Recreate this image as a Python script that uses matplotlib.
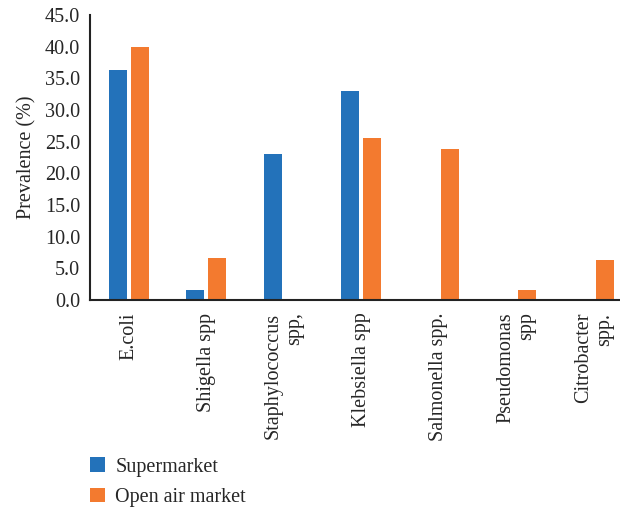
import matplotlib
matplotlib.use("Agg")
import matplotlib.pyplot as plt
import numpy as np
from matplotlib.patches import Patch

categories = ["E.coli", "Shigella spp", "Staphylococcus\nspp,", "Klebsiella spp",
              "Salmonella spp.", "Pseudomonas\nspp", "Citrobacter\nspp."]
supermarket = [36.3, 1.6, 23.1, 33.0, 0.0, 0.0, 0.0]
open_air = [40.0, 6.6, 0.0, 25.5, 23.9, 1.6, 6.3]
yticks = [0, 5, 10, 15, 20, 25, 30, 35, 40, 45]
series_names = ["Supermarket", "Open air market"]

blue = "#2372BA"
orange = "#F37A2F"
txt = "#262626"

plt.rcParams['font.family'] = ['Liberation Serif', 'DejaVu Serif']

fig = plt.figure(figsize=(6.2, 5.12), dpi=100)
W, H = 620, 512
ax = fig.add_axes([90 / W, 1 - 300 / H, (620 - 90) / W, (300 - 15) / H])

x = np.arange(len(categories))
bw = 0.23
off = 0.142
ax.bar(x - off, supermarket, width=bw, color=blue)
ax.bar(x + off, open_air, width=bw, color=orange)

fs = 14.5
ax.set_xlim(-0.5, -0.5 + 530 / 77.5)
ax.set_ylim(0, 45)
ax.set_yticks(yticks)
ax.set_yticklabels([f"{v:.1f}" for v in yticks], fontsize=fs)
ax.set_xticks(x)
ax.set_xticklabels(categories, rotation=90, fontsize=fs, va='top', ha='center',
                   multialignment='right', linespacing=1.15)
ax.tick_params(axis='both', length=0, colors=txt)
ax.tick_params(axis='x', pad=9)
ax.tick_params(axis='y', pad=7)
ax.set_ylabel("Prevalence (%)", fontsize=fs, color=txt, labelpad=6)

for s in ['top', 'right']:
    ax.spines[s].set_visible(False)
for s in ['left', 'bottom']:
    ax.spines[s].set_color('#222222')
    ax.spines[s].set_linewidth(1.5)

handles = [Patch(facecolor=blue, label=series_names[0]),
           Patch(facecolor=orange, label=series_names[1])]
fig.legend(handles=handles, loc='upper left', bbox_to_anchor=(72 / W, 1 - 439 / H),
           frameon=False, fontsize=fs, handlelength=0.75, handleheight=0.75,
           handletextpad=0.5, labelspacing=0.55, labelcolor=txt)

fig.savefig("out.png", dpi=100)
